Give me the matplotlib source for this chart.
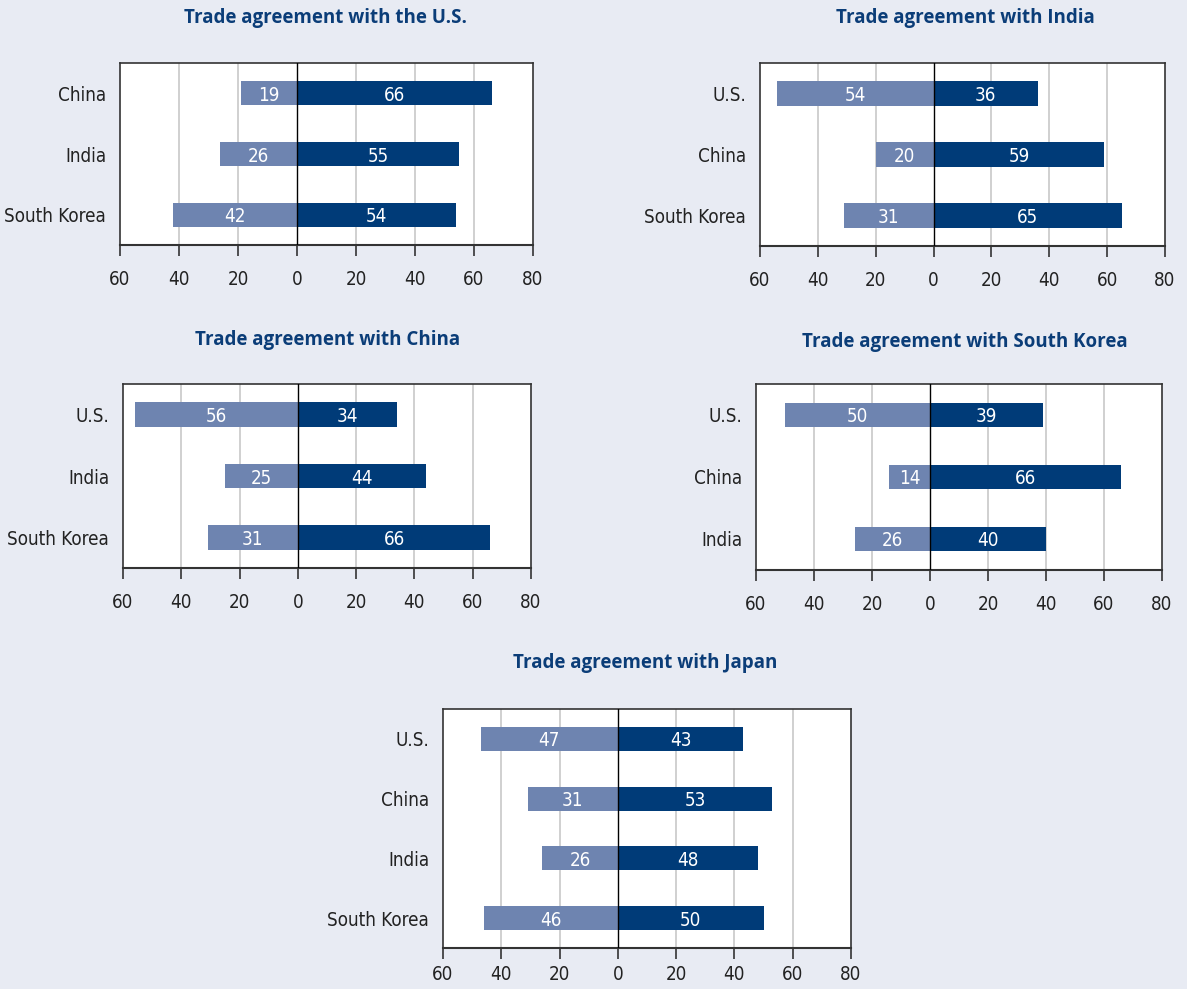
import matplotlib
matplotlib.use("Agg")
import matplotlib.pyplot as plt
import numpy as np

# 데이터
titles = [
    "Trade agreement with the U.S.",
    "Trade agreement with India",
    "Trade agreement with China",
    "Trade agreement with South Korea",
    "Trade agreement with Japan",
]
countries_us = ["China", "India", "South Korea"]
against_us = [19, 26, 42]
favor_us = [66, 55, 54]

countries_india = ["U.S.", "China", "South Korea"]
against_india = [54, 20, 31]
favor_india = [36, 59, 65]

countries_china = ["U.S.", "India", "South Korea"]
against_china = [56, 25, 31]
favor_china = [34, 44, 66]

countries_korea = ["U.S.", "China", "India"]
against_korea = [50, 14, 26]
favor_korea = [39, 66, 40]

countries_japan = ["U.S.", "China", "India", "South Korea"]
against_japan = [47, 31, 26, 46]
favor_japan = [43, 53, 48, 50]

xticks = [-60, -40, -20, 0, 20, 40, 60, 80]
xticklabels = ["60", "40", "20", "0", "20", "40", "60", "80"]

BG = "#e8ebf3"
LIGHT = "#6e84b0"
DARK = "#003b78"
TITLE_C = "#0b3d78"
FRAME = "#333333"
TXT = "#222222"
NARROW = dict(family="DejaVu Sans", fontstretch="condensed", fontsize=13.5)

W, H = 1187, 989
fig = plt.figure(figsize=(W / 100, H / 100), dpi=100)
fig.patch.set_facecolor(BG)


def px_axes(left, top, right, bottom):
    return fig.add_axes([left / W, 1 - bottom / H, (right - left) / W, (bottom - top) / H])


def draw_panel(ax, title, title_xy, countries, against, favor, xpad=10):
    n = len(countries)
    y = np.arange(n)
    ax.set_facecolor("white")
    for g in [-40, -20, 20, 40, 60]:
        ax.axvline(g, color="#c8c8c8", lw=1.2, zorder=0)
    ax.barh(y, [-v for v in against], height=0.4, color=LIGHT, zorder=2)
    ax.barh(y, favor, height=0.4, color=DARK, zorder=2)
    ax.axvline(0, color="black", lw=1.0, zorder=3)
    for i in range(n):
        ax.text(-against[i] / 2, y[i], str(against[i]), color="white", ha="center",
                va="center_baseline", zorder=4, **NARROW)
        ax.text(favor[i] / 2, y[i], str(favor[i]), color="white", ha="center",
                va="center_baseline", zorder=4, **NARROW)
    ax.set_xlim(-60, 80)
    ax.set_ylim(n - 0.5, -0.5)
    ax.set_yticks(y)
    ax.set_yticklabels(countries, color=TXT, **NARROW)
    ax.tick_params(axis="y", length=0, pad=10)
    ax.set_xticks(xticks)
    ax.set_xticklabels(xticklabels, color=TXT, **NARROW)
    ax.tick_params(axis="x", direction="out", length=8, width=1.2, color=FRAME, pad=xpad)
    for s in ax.spines.values():
        s.set_color(FRAME)
        s.set_linewidth(1.2)
    ax.spines["bottom"].set_linewidth(1.5)
    fig.text(title_xy[0] / W, 1 - title_xy[1] / H, title, ha="center", va="center",
             fontsize=13.5, fontweight="bold", color=TITLE_C,
             family=["Open Sans", "DejaVu Sans"])


ax1 = px_axes(120, 63, 533, 245)
draw_panel(ax1, titles[0], (326, 18), countries_us, against_us, favor_us)

ax2 = px_axes(760, 63, 1165, 246)
draw_panel(ax2, titles[1], (965, 18), countries_india, against_india, favor_india)

ax3 = px_axes(123, 384, 531, 568)
draw_panel(ax3, titles[2], (328, 340), countries_china, against_china, favor_china)

ax4 = px_axes(756, 384, 1162, 570)
draw_panel(ax4, titles[3], (965, 342), countries_korea, against_korea, favor_korea)

ax5 = px_axes(443, 709, 851, 948)
draw_panel(ax5, titles[4], (645, 663), countries_japan, against_japan, favor_japan, xpad=4)

fig.savefig("out.png", dpi=100, facecolor=BG)
